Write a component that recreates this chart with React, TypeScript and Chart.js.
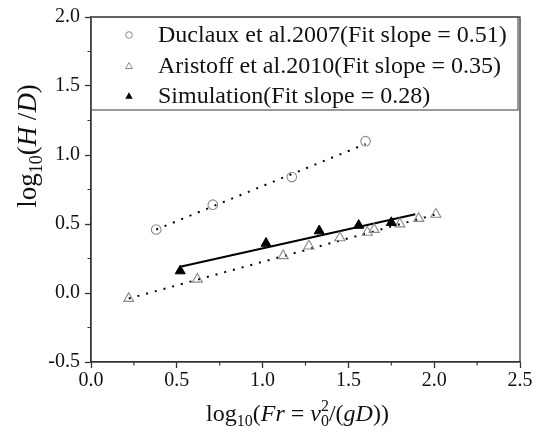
import React, { useEffect, useRef } from 'react';
import { Chart, registerables } from 'chart.js';

Chart.register(...registerables);

// ---- data ----
const duclauxX = [0.38, 0.71, 1.17, 1.60];
const duclauxY = [0.46, 0.64, 0.84, 1.10];
const duclauxFitX = [0.38, 1.60];
const duclauxFitY = [0.46, 1.08];

const aristoffX = [0.22, 0.62, 1.12, 1.27, 1.45, 1.61, 1.65, 1.80, 1.91, 2.01];
const aristoffY = [-0.04, 0.10, 0.27, 0.34, 0.40, 0.44, 0.46, 0.50, 0.54, 0.57];
const aristoffFitX = [0.22, 2.01];
const aristoffFitY = [-0.04, 0.57];

const simX = [0.52, 1.02, 1.33, 1.56, 1.75];
const simY = [0.16, 0.36, 0.45, 0.49, 0.51];
const simFitX = [0.52, 1.89];
const simFitY = [0.19, 0.57];

const xTicks = [0, 0.5, 1.0, 1.5, 2.0, 2.5];
const yTicks = [-0.5, 0, 0.5, 1.0, 1.5, 2.0];

const legendLabels = [
  'Duclaux et al.2007(Fit slope = 0.51)',
  'Aristoff et al.2010(Fit slope = 0.35)',
  'Simulation(Fit slope = 0.28)',
];

const SERIF = "'Liberation Serif', 'Times New Roman', serif";
const AXIS = '#333333';
const GRAY = '#8a8a8a';

const pts = (xs: number[], ys: number[]) => xs.map((x, i) => ({ x, y: ys[i] }));

type Part = { t: string; it?: boolean; sz?: number; dy?: number; noAdv?: boolean };

function richWidth(ctx: CanvasRenderingContext2D, parts: Part[], base: number) {
  let w = 0;
  for (const p of parts) {
    ctx.font = `${p.it ? 'italic ' : ''}${p.sz ?? base}px ${SERIF}`;
    if (!p.noAdv) w += ctx.measureText(p.t).width;
  }
  return w;
}

function drawRich(ctx: CanvasRenderingContext2D, parts: Part[], x: number, y: number, base: number) {
  let cx = x;
  for (const p of parts) {
    ctx.font = `${p.it ? 'italic ' : ''}${p.sz ?? base}px ${SERIF}`;
    ctx.fillText(p.t, cx, y + (p.dy ?? 0));
    if (!p.noAdv) cx += ctx.measureText(p.t).width;
  }
}

const xTitle: Part[] = [
  { t: 'log' },
  { t: '10', sz: 16, dy: 5 },
  { t: '(' },
  { t: 'Fr', it: true },
  { t: ' = ' },
  { t: 'v', it: true },
  { t: '0', sz: 16, dy: 5, noAdv: true },
  { t: '2', sz: 16, dy: -10 },
  { t: '/(' },
  { t: 'gD', it: true },
  { t: '))' },
];

const yTitle: Part[] = [
  { t: 'log' },
  { t: '10', sz: 18, dy: 6 },
  { t: '(' },
  { t: 'H', it: true },
  { t: ' /' },
  { t: 'D', it: true },
  { t: ')' },
];

const decorPlugin = {
  id: 'decor',
  beforeDraw(chart: any) {
    const { ctx, width, height } = chart;
    ctx.save();
    ctx.fillStyle = '#ffffff';
    ctx.fillRect(0, 0, width, height);
    ctx.restore();
  },
  afterDraw(chart: any) {
    const { ctx, chartArea: a, scales } = chart;
    const sx = scales.x;
    const sy = scales.y;
    ctx.save();
    // frame
    ctx.strokeStyle = AXIS;
    ctx.lineWidth = 1.3;
    ctx.strokeRect(a.left, a.top, a.right - a.left, a.bottom - a.top);
    // minor ticks
    ctx.lineWidth = 1.2;
    ctx.beginPath();
    for (let i = 0; i < xTicks.length - 1; i++) {
      const px = sx.getPixelForValue((xTicks[i] + xTicks[i + 1]) / 2);
      ctx.moveTo(px, a.bottom);
      ctx.lineTo(px, a.bottom + 3.5);
    }
    for (let i = 0; i < yTicks.length - 1; i++) {
      const py = sy.getPixelForValue((yTicks[i] + yTicks[i + 1]) / 2);
      ctx.moveTo(a.left, py);
      ctx.lineTo(a.left - 3.5, py);
    }
    ctx.stroke();

    // legend box
    const lx0 = a.left;
    const ly0 = a.top;
    const lx1 = a.right - 2;
    const ly1 = a.top + 93;
    ctx.strokeStyle = '#555555';
    ctx.lineWidth = 1.2;
    ctx.strokeRect(lx0, ly0, lx1 - lx0, ly1 - ly0);
    const rows = [ly0 + 18, ly0 + 49, ly0 + 79];
    const mx = lx0 + 38;
    ctx.textBaseline = 'middle';
    ctx.textAlign = 'left';
    ctx.fillStyle = '#111111';
    // circle
    ctx.beginPath();
    ctx.strokeStyle = GRAY;
    ctx.lineWidth = 1;
    ctx.arc(mx, rows[0], 3.3, 0, Math.PI * 2);
    ctx.stroke();
    const tri = (cx: number, cy: number, r: number) => {
      ctx.beginPath();
      ctx.moveTo(cx, cy - r);
      ctx.lineTo(cx + r * 0.866, cy + r * 0.5);
      ctx.lineTo(cx - r * 0.866, cy + r * 0.5);
      ctx.closePath();
    };
    tri(mx, rows[1] + 0.5, 4);
    ctx.strokeStyle = GRAY;
    ctx.stroke();
    tri(mx, rows[2] + 0.5, 4.3);
    ctx.fillStyle = '#000000';
    ctx.fill();
    ctx.fillStyle = '#111111';
    ctx.font = `24px ${SERIF}`;
    legendLabels.forEach((lab, i) => ctx.fillText(lab, lx0 + 67, rows[i] + 1));

    // axis titles
    ctx.fillStyle = '#111111';
    ctx.textBaseline = 'alphabetic';
    const base = 24;
    const wx = richWidth(ctx, xTitle, base);
    drawRich(ctx, xTitle, (a.left + a.right) / 2 - wx / 2 - 8, 421, base);

    const yb = 27;
    const wy = richWidth(ctx, yTitle, yb);
    ctx.translate(36, 146);
    ctx.rotate(-Math.PI / 2);
    drawRich(ctx, yTitle, -wy / 2, 0, yb);
    ctx.restore();
  },
};

export default function App() {
  const ref = useRef<HTMLCanvasElement | null>(null);
  useEffect(() => {
    if (!ref.current) return;
    const lineDs = (xs: number[], ys: number[], dotted: boolean) => ({
      data: pts(xs, ys),
      showLine: true,
      pointRadius: 0,
      pointHoverRadius: 0,
      borderColor: '#000000',
      borderWidth: 2,
      borderDash: dotted ? [2, 7] : [],
      borderCapStyle: 'butt',
      fill: false,
    });
    const chart = new Chart(ref.current, {
      type: 'scatter',
      data: {
        datasets: [
          {
            label: legendLabels[0],
            data: pts(duclauxX, duclauxY),
            pointStyle: 'circle',
            pointRadius: 4.8,
            backgroundColor: 'rgba(0,0,0,0)',
            borderColor: GRAY,
            borderWidth: 1.1,
            order: 1,
          },
          {
            label: legendLabels[1],
            data: pts(aristoffX, aristoffY),
            pointStyle: 'triangle',
            pointRadius: 5.8,
            backgroundColor: 'rgba(0,0,0,0)',
            borderColor: GRAY,
            borderWidth: 1.1,
            order: 1,
          },
          {
            label: legendLabels[2],
            data: pts(simX, simY),
            pointStyle: 'triangle',
            pointRadius: 5.8,
            backgroundColor: '#000000',
            borderColor: '#000000',
            borderWidth: 1,
            order: 0,
          },
          { label: 'fit1', ...lineDs(duclauxFitX, duclauxFitY, true), order: 2 },
          { label: 'fit2', ...lineDs(aristoffFitX, aristoffFitY, true), order: 2 },
          { label: 'fit3', ...lineDs(simFitX, simFitY, false), order: 1 },
        ] as any,
      },
      options: {
        responsive: false,
        animation: false,
        events: [],
        layout: { padding: { left: 0, right: 19, top: 15, bottom: 0 } },
        plugins: {
          legend: { display: false },
          tooltip: { enabled: false },
          title: { display: false },
        },
        scales: {
          x: {
            type: 'linear',
            min: 0,
            max: 2.5,
            afterBuildTicks: (s: any) => {
              s.ticks = xTicks.map((v) => ({ value: v }));
            },
            afterFit: (s: any) => {
              s.height = 74;
            },
            ticks: {
              callback: (v: any) => Number(v).toFixed(1),
              color: '#111111',
              font: { family: SERIF, size: 20 },
              padding: 1,
              maxRotation: 0,
              autoSkip: false,
            },
            grid: {
              display: true,
              drawOnChartArea: false,
              drawTicks: true,
              tickLength: 6,
              tickColor: AXIS,
              tickWidth: 1.3,
            },
            border: { display: true, color: AXIS, width: 1.3 },
            title: { display: false },
          },
          y: {
            type: 'linear',
            min: -0.5,
            max: 2.0,
            afterBuildTicks: (s: any) => {
              s.ticks = yTicks.map((v) => ({ value: v }));
            },
            afterFit: (s: any) => {
              s.width = 91;
            },
            ticks: {
              callback: (v: any) => Number(v).toFixed(1),
              color: '#111111',
              font: { family: SERIF, size: 20 },
              padding: 5,
              autoSkip: false,
            },
            grid: {
              display: true,
              drawOnChartArea: false,
              drawTicks: true,
              tickLength: 6,
              tickColor: AXIS,
              tickWidth: 1.3,
            },
            border: { display: true, color: AXIS, width: 1.3 },
            title: { display: false },
          },
        },
      } as any,
      plugins: [decorPlugin],
    });
    return () => chart.destroy();
  }, []);
  return (
    <div style={{ position: 'fixed', left: 0, top: 0, width: 539, height: 436, background: '#fff' }}>
      <canvas ref={ref} width={539} height={436} style={{ display: 'block', width: 539, height: 436 }} />
    </div>
  );
}
